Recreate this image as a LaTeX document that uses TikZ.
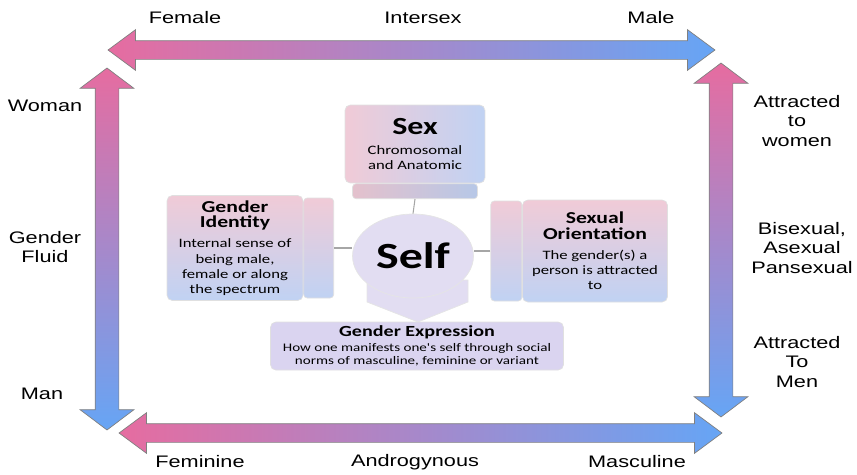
\documentclass[tikz,border=0pt]{standalone}
\usepackage{fontspec}
\setmainfont{Liberation Sans}[FakeStretch=1.3]
\newfontfamily\boxfont{Carlito}[FakeStretch=1.3]
\usetikzlibrary{shapes.arrows,shapes.geometric,positioning}

\definecolor{axispink}{RGB}{230,108,160}
\definecolor{axisblue}{RGB}{102,165,245}
\definecolor{boxpink}{RGB}{240,203,215}
\definecolor{boxblue}{RGB}{192,210,243}
\definecolor{selfviolet}{RGB}{226,221,242}
\definecolor{exprviolet}{RGB}{218,212,240}

\newcommand{\headfont}{\fontsize{9.5}{11}\selectfont\bfseries}

\begin{document}
\begin{tikzpicture}[x=0.02cm,y=-0.02cm,
  axis/.style={double arrow, draw=black!50, line width=0.4pt, inner xsep=0pt},
  flataxis/.style={axis, inner ysep=0.18cm, double arrow head extend=0.22cm,
    double arrow tip angle=73, left color=axispink, right color=axisblue},
  uprightaxis/.style={axis, rotate=-90, inner ysep=0.23cm, double arrow head extend=0.3cm,
    double arrow tip angle=106, top color=axispink, bottom color=axisblue},
  lbl/.style={font=\fontsize{9.5}{11.2}\selectfont, align=center},
  face/.style={draw=black!12, rounded corners=3pt, align=center, inner sep=1pt,
    font=\boxfont\fontsize{7.3}{8.6}\selectfont},
  sidebox/.style={draw=black!12, rounded corners=2pt, inner sep=0pt},
  link/.style={draw=black!35, line width=0.6pt}]
  \useasboundingbox (0,0) rectangle (857,474);

  %%%%%%%%%%%%%%%% the four axes %%%%%%%%%%%%%%%%
  \node[flataxis, minimum height=12.14cm] (sexaxis) at (411.5,50) {};
  \node[flataxis, minimum height=12.06cm] (expraxis) at (420.5,433) {};
  \node[uprightaxis, minimum height=7.24cm] (identaxis) at (107,249) {};
  \node[uprightaxis, minimum height=7.08cm] (orientaxis) at (721,240) {};

  \node[lbl] (female) at (185,18) {Female};
  \node[lbl] (intersex) at (423,18) {Intersex};
  \node[lbl] (male) at (651,18) {Male};

  \node[lbl] (feminine) at (200,462) {Feminine};
  \node[lbl] (androgynous) at (415,462) {Androgynous};
  \node[lbl] (masculine) at (637,462) {Masculine};

  \node[lbl] (woman) at (45,106) {Woman};
  \node[lbl] (fluid) at (45,247) {Gender\\Fluid};
  \node[lbl] (man) at (42,394) {Man};

  \node[lbl] (women) at (797,121) {Attracted\\to\\women};
  \node[lbl] (bisexual) at (802,248) {Bisexual,\\Asexual\\Pansexual};
  \node[lbl] (men) at (797,362) {Attracted\\To\\Men};

  %%%%%%%%%%%%%%%% the self and its four parts %%%%%%%%%%%%%%%%
  \filldraw[fill=selfviolet, draw=black!10] (367,280) -- (367,302) -- (418,322)
    -- (468,302) -- (468,280) -- cycle;
  \node[ellipse, fill=selfviolet, draw=black!10, minimum width=2.42cm,
    minimum height=1.68cm, font=\boxfont\fontsize{21}{24}\selectfont\bfseries] (self) at (413,256) {Self};

  \node[face, left color=boxpink, right color=boxblue, minimum width=2.8cm,
    minimum height=1.56cm] (sex) at (415,144)
    {{\fontsize{14}{16}\selectfont\bfseries Sex}\\[3pt] Chromosomal\\and Anatomic};
  \node[sidebox, left color=boxpink!95!black, right color=boxblue!95!black,
    minimum width=2.5cm, minimum height=0.3cm, below=0pt of sex] (sexledge) {};

  \node[face, top color=boxpink, bottom color=boxblue, minimum width=2.72cm,
    minimum height=2.1cm] (identity) at (235,248)
    {{\headfont Gender}\\{\headfont Identity}\\[3pt]
     Internal sense of\\being male,\\female or along\\the spectrum};
  \node[sidebox, top color=boxpink, bottom color=boxblue, minimum width=0.6cm,
    minimum height=2.0cm, right=0pt of identity] (identityside) {};

  \node[face, top color=boxpink, bottom color=boxblue, minimum width=2.9cm,
    minimum height=2.04cm] (orientation) at (595,251)
    {{\headfont Sexual}\\{\headfont Orientation}\\[3pt]
     The gender(s) a\\person is attracted\\to};
  \node[sidebox, top color=boxpink, bottom color=boxblue, minimum width=0.62cm,
    minimum height=2.0cm, left=0pt of orientation] (orientationside) {};

  \node[face, fill=exprviolet, minimum width=5.86cm, minimum height=0.96cm,
    font=\boxfont\fontsize{6.6}{7.6}\selectfont] (expression) at (417,346)
    {{\fontsize{8.8}{10}\selectfont\bfseries Gender Expression}\\[1pt]
     How one manifests one's self through social\\norms of masculine, feminine or variant};

  \draw[link] (sexledge.south) -- (self.north);
  \draw[link] (identityside.east) -- (identityside.east -| self.west);
  \draw[link] (orientationside.west) -- (orientationside.west -| self.east);

\end{tikzpicture}
\end{document}
